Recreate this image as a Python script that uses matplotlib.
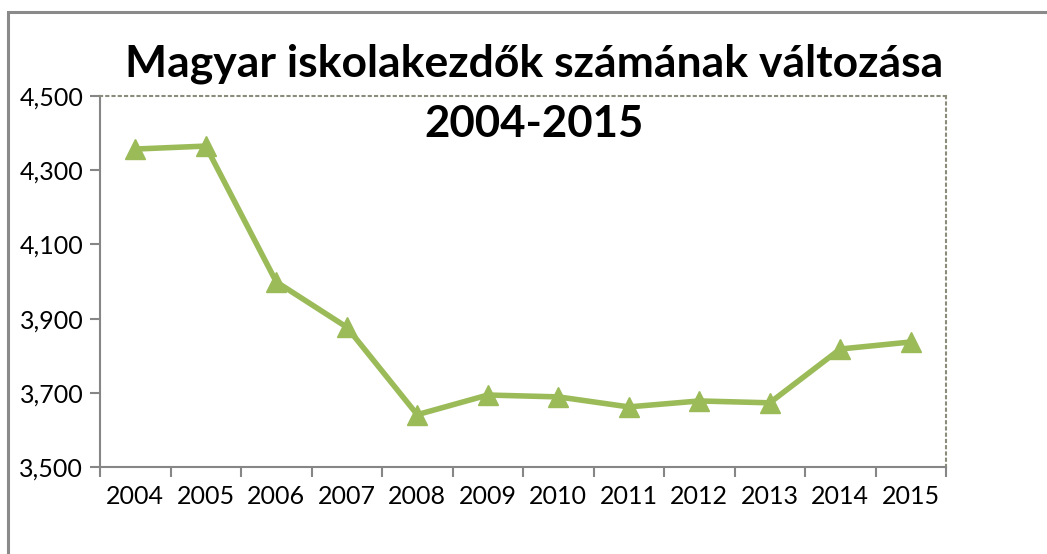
import matplotlib.pyplot as plt
from matplotlib.patches import Rectangle
import numpy as np

years = ["2004", "2005", "2006", "2007", "2008", "2009",
         "2010", "2011", "2012", "2013", "2014", "2015"]
pupils = [4357, 4365, 3999, 3877, 3641, 3694, 3689, 3662, 3678, 3673, 3818, 3837]
y_ticks = [3500, 3700, 3900, 4100, 4300, 4500]

plt.rcParams['font.family'] = ['Lato', 'DejaVu Sans']

W, H = 1047, 554
fig = plt.figure(figsize=(W / 100, H / 100), dpi=100)
ax = fig.add_axes([100 / W, 1 - 467 / H, 846 / W, 371 / H])

# outer chart border (left and top visible)
fig.patches.append(Rectangle((7.5 / W, -0.1), 1.2, 1 - 12 / H + 0.1,
                             transform=fig.transFigure, fill=False,
                             edgecolor='#8a8a8a', linewidth=2.2))

x = np.arange(len(years))
ax.plot(x, pupils, color='#9BBB59', linewidth=4, marker='^',
        markersize=14, markeredgecolor='#9BBB59', zorder=3)

ax.set_xlim(-0.5, len(years) - 0.5)
ax.set_ylim(3500, 4500)
ax.set_yticks(y_ticks)
ax.set_yticklabels([f"{v:,}" for v in y_ticks])
ax.set_xticks(x)
ax.set_xticklabels(years)
ax.set_xticks(np.arange(-0.5, len(years)), minor=True)

ax.tick_params(axis='y', length=7, width=1.5, color='#868686',
               labelsize=18, pad=5)
ax.tick_params(axis='x', which='major', length=0, labelsize=18, pad=13)
ax.tick_params(axis='x', which='minor', length=7, width=1.5, color='#868686',
               direction='out')

for side in ['top', 'right']:
    ax.spines[side].set_linestyle((0, (1, 2)))
    ax.spines[side].set_color('#8c8c7c')
    ax.spines[side].set_linewidth(1.5)
for side in ['left', 'bottom']:
    ax.spines[side].set_color('#868686')
    ax.spines[side].set_linewidth(1.5)

fig.text(534 / W, 1 - 64 / H, "Magyar iskolakezdők számának változása",
         ha='center', va='center', fontsize=32, fontweight='bold')
fig.text(534 / W, 1 - 124 / H, "2004-2015",
         ha='center', va='center', fontsize=31.5, fontweight='bold')

fig.savefig("out.png", dpi=100)
